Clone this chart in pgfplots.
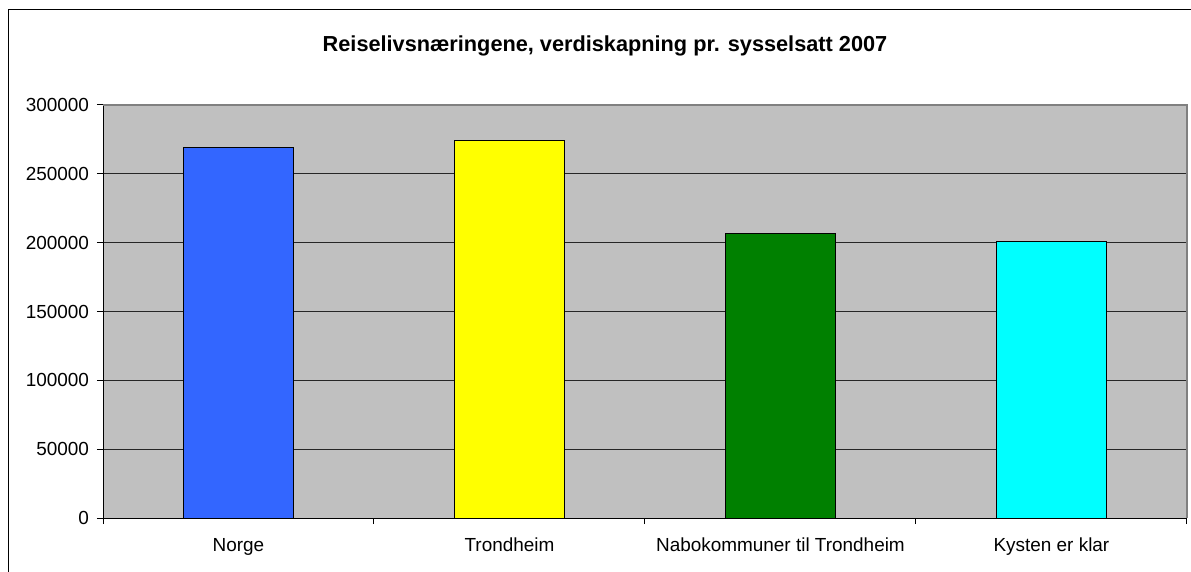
\documentclass[border=0pt]{standalone}
\usepackage{pgfplots}
\pgfplotsset{compat=1.18}
\usepackage{fontspec}
\setmainfont{Liberation Sans}
\definecolor{cblue}{RGB}{51,102,255}
\definecolor{cyellow}{RGB}{255,255,0}
\definecolor{cgreen}{RGB}{0,128,0}
\definecolor{ccyan}{RGB}{0,255,255}
\definecolor{bgray}{RGB}{192,192,192}
\definecolor{bordergray}{RGB}{128,128,128}
\begin{document}
\begin{tikzpicture}
\useasboundingbox (0bp,0bp) rectangle (1191bp,572bp);
\draw[line width=1bp, black] (8bp,0bp) -- (8bp,562bp) -- (1191bp,562bp);
\node[font=\bfseries\fontsize{21.8}{26}\selectfont, anchor=base, inner sep=0pt] at (605bp,520.3bp) {Reiselivsnæringene, verdiskapning pr. sysselsatt 2007};
\begin{axis}[
  at={(103bp,54bp)}, anchor=south west,
  scale only axis, width=1084bp, height=413bp,
  xmin=-0.5, xmax=3.5, ymin=0, ymax=300000,
  axis background/.style={fill=bgray},
  axis x line*=bottom, axis y line*=left,
  axis line style={-, black, line width=1bp},
  xtick={0,1,2,3},
  xticklabels={Norge,Trondheim,Nabokommuner til Trondheim,Kysten er klar},
  major x tick style={draw=none},
  minor xtick={-0.5,0.5,1.5,2.5,3.5},
  ytick={0,50000,100000,150000,200000,250000,300000},
  tick align=outside,
  major tick length=6bp, minor tick length=6bp,
  tick style={black, line width=1bp},
  ymajorgrids, grid style={black!85, line width=0.9bp},
  scaled y ticks=false,
  yticklabel style={/pgf/number format/fixed, /pgf/number format/1000 sep={}, xshift=-4.5bp},
  xticklabel style={yshift=-10.5bp},
  /pgf/number format/assume math mode=true,
  tick label style={font=\fontsize{19}{22}\selectfont},
  clip=false,
]
\addplot[ybar, bar shift=0pt, bar width=110bp, fill=cblue, draw=black, line width=1bp] coordinates {(0,268800)};
\addplot[ybar, bar shift=0pt, bar width=110bp, fill=cyellow, draw=black, line width=1bp] coordinates {(1,274100)};
\addplot[ybar, bar shift=0pt, bar width=110bp, fill=cgreen, draw=black, line width=1bp] coordinates {(2,206500)};
\addplot[ybar, bar shift=0pt, bar width=110bp, fill=ccyan, draw=black, line width=1bp] coordinates {(3,201000)};
\draw[bordergray, line width=1.2bp] (rel axis cs:0,1) -- (rel axis cs:1,1) -- (rel axis cs:1,0);
\end{axis}
\end{tikzpicture}
\end{document}
